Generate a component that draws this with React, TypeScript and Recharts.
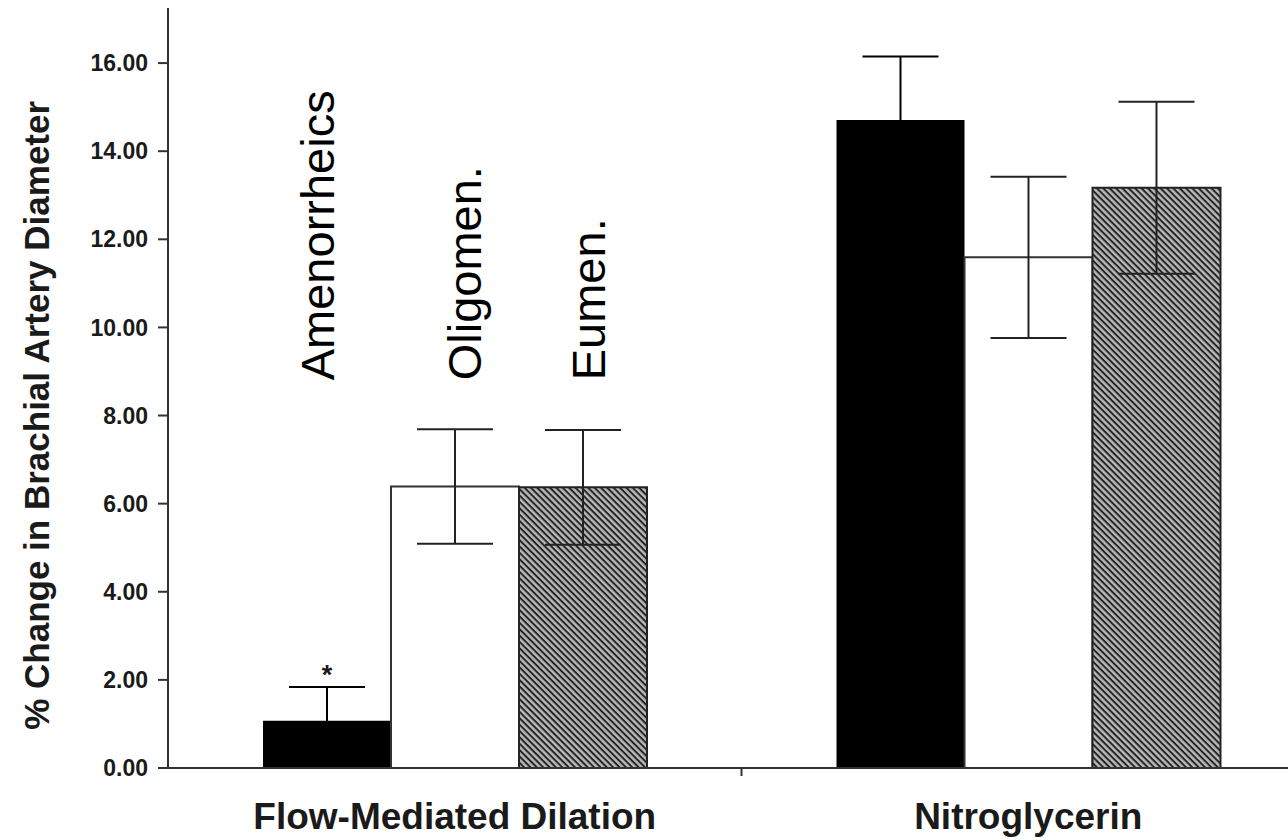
import React from 'react';
import { BarChart, Bar, XAxis, YAxis, ErrorBar, LabelList } from 'recharts';

// Percent change in brachial artery diameter by menstrual status
const categories = ['Flow-Mediated Dilation', 'Nitroglycerin'];
const amenorrheics = [1.07, 14.71];
const amenorrheicsErr = [0.77, 1.44];
const oligomen = [6.39, 11.59];
const oligomenErr = [1.3, 1.83];
const eumen = [6.37, 13.17];
const eumenErr = [1.3, 1.95];
const significance = ['*', ''];
const seriesNames = ['Amenorrheics', 'Oligomen.', 'Eumen.'];
const yTicks = [0, 2, 4, 6, 8, 10, 12, 14, 16];

const data = categories.map((category, i) => ({
  category,
  amen: amenorrheics[i],
  amenErr: amenorrheicsErr[i],
  olig: oligomen[i],
  oligErr: oligomenErr[i],
  eumen: eumen[i],
  eumenErr: eumenErr[i],
  sig: significance[i],
}));

// layout
const CHART_W = 1320;
const CHART_H = 840;
const MARGIN = { top: 8, right: 5, bottom: 0, left: 0 };
const Y_AXIS_W = 168;
const PLOT_W = CHART_W - MARGIN.left - MARGIN.right - Y_AXIS_W;
const HALF_BAND = PLOT_W / (2 * categories.length);
const FONT = '"Liberation Sans", Arial, Helvetica, sans-serif';
const INK = '#1a1a1a';

// series name labels sit at this value level, drawn upward
const NAME_LEVEL = 8.8;
const NAME_DX = [7, 26, 22];

const geom = (props: any) => {
  const vb = props.viewBox && props.viewBox.width !== undefined ? props.viewBox : props;
  return { x: Number(vb.x), y: Number(vb.y), width: Number(vb.width), height: Number(vb.height) };
};

const nameLabel = (series: number, values: number[]) => (props: any) => {
  const { index } = props;
  if (index !== 0) return null;
  const { x, y, width, height } = geom(props);
  const v = values[index];
  const zeroY = y + height;
  const pxPerUnit = height / v;
  const lx = x + width / 2 + NAME_DX[series];
  const ly = zeroY - NAME_LEVEL * pxPerUnit;
  return (
    <text
      x={lx}
      y={ly}
      transform={`rotate(-90, ${lx}, ${ly})`}
      textAnchor="start"
      fontFamily={FONT}
      fontSize={47}
      fill="#000"
    >
      {seriesNames[series]}
    </text>
  );
};

const sigLabel = (props: any) => {
  const { index } = props;
  const mark = significance[index];
  if (!mark) return null;
  const { x, y, width, height } = geom(props);
  const v = amenorrheics[index];
  const pxPerUnit = height / v;
  const topY = y + height - (v + amenorrheicsErr[index]) * pxPerUnit;
  return (
    <text x={x + width / 2} y={topY - 3} textAnchor="middle" fontFamily={FONT} fontWeight="bold" fontSize={27} fill={INK}>
      {mark}
    </text>
  );
};

const CategoryTick = (props: any) => {
  const { x, y, payload, index } = props;
  return (
    <g>
      <text x={x} y={y + 61} textAnchor="middle" fontFamily={FONT} fontWeight="bold" fontSize={37} fill={INK}>
        {payload.value}
      </text>
      {index < categories.length - 1 && (
        <line x1={x + HALF_BAND} x2={x + HALF_BAND} y1={y} y2={y + 8} stroke="#333" strokeWidth={2} />
      )}
    </g>
  );
};

const YTitle = (props: any) => {
  const vb = props.viewBox || {};
  const cx = 37;
  const cy = vb.y + vb.height * 0.536;
  return (
    <text
      x={cx}
      y={cy}
      transform={`rotate(-90, ${cx}, ${cy})`}
      textAnchor="middle"
      dominantBaseline="central"
      fontFamily={FONT}
      fontWeight="bold"
      fontSize={35}
      fill={INK}
    >
      % Change in Brachial Artery Diameter
    </text>
  );
};

export default function App() {
  return (
    <div
      style={{
        position: 'fixed',
        left: 0,
        top: 0,
        width: 1288,
        height: 840,
        overflow: 'hidden',
        background: '#fff',
      }}
    >
      <svg width={0} height={0} style={{ position: 'absolute' }}>
        <defs>
          <pattern id="hatch" width={4.5} height={4.5} patternUnits="userSpaceOnUse" patternTransform="rotate(45)">
            <rect x={0} y={0} width={4.5} height={4.5} fill="#b8b8b8" />
            <rect x={0} y={0} width={4.5} height={2} fill="#262626" />
          </pattern>
        </defs>
      </svg>
      <BarChart width={CHART_W} height={CHART_H} data={data} margin={MARGIN} barGap={0} barSize={128}>
        <XAxis
          dataKey="category"
          interval={0}
          height={72}
          tickLine={false}
          tickSize={0}
          tickMargin={0}
          axisLine={{ stroke: '#333', strokeWidth: 2 }}
          tick={<CategoryTick />}
        />
        <YAxis
          width={Y_AXIS_W}
          domain={[0, 17.25]}
          ticks={yTicks}
          tickFormatter={(v: number) => v.toFixed(2)}
          tickSize={10}
          tickMargin={10}
          axisLine={{ stroke: '#333', strokeWidth: 2 }}
          tickLine={{ stroke: '#333', strokeWidth: 2 }}
          tick={{ fontFamily: FONT, fontWeight: 'bold', fontSize: 23, fill: INK }}
          label={<YTitle />}
        />
        <Bar dataKey="amen" fill="#000" isAnimationActive={false}>
          <ErrorBar dataKey="amenErr" width={38} stroke="#000" strokeWidth={2} />
          <LabelList dataKey="amen" content={nameLabel(0, amenorrheics)} />
          <LabelList dataKey="amen" content={sigLabel} />
        </Bar>
        <Bar dataKey="olig" fill="#fff" stroke="#333" strokeWidth={2} isAnimationActive={false}>
          <ErrorBar dataKey="oligErr" width={38} stroke="#222" strokeWidth={2} />
          <LabelList dataKey="olig" content={nameLabel(1, oligomen)} />
        </Bar>
        <Bar dataKey="eumen" fill="url(#hatch)" stroke="#222" strokeWidth={2} isAnimationActive={false}>
          <ErrorBar dataKey="eumenErr" width={38} stroke="#222" strokeWidth={2} />
          <LabelList dataKey="eumen" content={nameLabel(2, eumen)} />
        </Bar>
      </BarChart>
    </div>
  );
}
